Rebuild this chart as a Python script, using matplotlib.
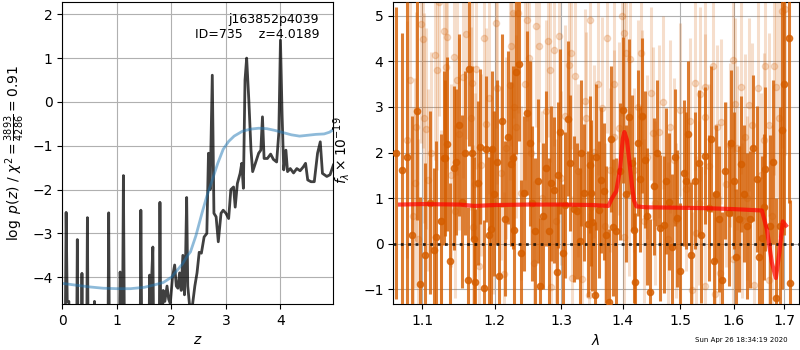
import numpy as np
import matplotlib
matplotlib.use('Agg')
import matplotlib.pyplot as plt
from matplotlib.ticker import NullLocator

# ---- p(z) panel ----
zgrid = [0.0, 0.05, 0.07, 0.09, 0.12, 0.14, 0.26, 0.275, 0.29, 0.345, 0.36, 0.375,
         0.445, 0.46, 0.475, 0.57, 0.59, 0.61, 0.835, 0.85, 0.865, 1.04, 1.06, 1.08,
         1.10, 1.12, 1.135, 1.15, 1.425, 1.44, 1.46, 1.585, 1.60, 1.62, 1.66, 1.68,
         1.775, 1.79, 1.81, 1.85, 1.88, 1.92, 1.95, 1.98, 2.02, 2.06, 2.09, 2.12,
         2.15, 2.18, 2.21, 2.24, 2.26, 2.28, 2.30, 2.33, 2.36, 2.39, 2.43, 2.47,
         2.51, 2.55, 2.60, 2.65, 2.68, 2.71, 2.75, 2.78, 2.82, 2.86, 2.91, 2.95,
         3.00, 3.05, 3.09, 3.14, 3.17, 3.21, 3.26, 3.29, 3.32, 3.35, 3.38, 3.42,
         3.46, 3.49, 3.54, 3.60, 3.64, 3.67, 3.70, 3.76, 3.82, 3.87, 3.93, 3.97,
         4.00, 4.03, 4.06, 4.10, 4.13, 4.18, 4.24, 4.30, 4.36, 4.42, 4.46, 4.50,
         4.56, 4.62, 4.68, 4.73, 4.77, 4.85, 4.91, 4.97]
log_pdf = [-6, -6, -2.52, -4.55, -4.55, -6, -6, -3.14, -6, -6, -3.91, -6,
           -6, -2.64, -6, -6, -4.55, -6, -6, -2.53, -6, -6, -3.88, -4.6,
           -6, -1.68, -4.6, -6, -6, -2.47, -6, -6, -3.95, -4.6, -3.31, -6,
           -6, -2.29, -6, -4.3, -4.55, -4.2, -4.5, -4.6, -4.0, -3.72, -4.2, -4.25,
           -3.9, -4.3, -3.5, -4.4, -3.6, -2.18, -4.2, -4.6, -4.7, -4.6, -4.2, -3.9,
           -3.43, -3.45, -3.08, -3.0, -1.17, -2.0, 0.61, -2.54, -2.62, -3.19, -2.54, -2.47,
           -2.54, -2.66, -2.0, -1.94, -2.4, -1.86, -1.63, -1.40, -1.97, 0.5, 1.0, 0.04,
           -1.1, -1.59, -1.40, -1.17, -1.1, -0.34, -1.29, -1.29, -1.19, -1.31, -1.37, -0.7,
           1.41, -0.3, -1.55, -1.1, -1.59, -1.52, -1.62, -1.52, -1.57, -1.48, -1.40, -1.78,
           -1.82, -1.82, -1.17, -0.91, -1.63, -1.70, -1.66, -1.44]

zprior = [0.0, 0.25, 0.5, 0.75, 1.0, 1.25, 1.5, 1.7, 1.85, 2.0, 2.1, 2.2, 2.3, 2.35,
          2.45, 2.56, 2.65, 2.75, 2.85, 2.95, 3.05, 3.15, 3.3, 3.45, 3.6, 3.75,
          3.9, 4.05, 4.2, 4.35, 4.5, 4.65, 4.8, 4.9, 4.97]
log_prior = [-4.14, -4.18, -4.22, -4.25, -4.26, -4.26, -4.23, -4.17, -4.12, -4.0, -3.85,
             -3.7, -3.5, -3.42, -3.05, -2.54, -2.15, -1.78, -1.4, -1.08, -0.9, -0.78,
             -0.67, -0.62, -0.60, -0.61, -0.65, -0.70, -0.75, -0.78, -0.76, -0.74,
             -0.73, -0.69, -0.63]

# ---- spectrum panel (dark = first grism, light = second) ----
wave_a = [1.0658, 1.0735, 1.0930, 1.0970, 1.1040, 1.1160, 1.1187, 1.1295, 1.1309, 1.1332,
          1.1377, 1.1423, 1.1460, 1.1538, 1.1575, 1.1617, 1.1640, 1.1682, 1.1724, 1.1762,
          1.1795, 1.1843, 1.1880, 1.1914, 1.1952, 1.1960, 1.2039, 1.2068, 1.2155, 1.2199,
          1.2233, 1.2273, 1.2317, 1.2357, 1.2386, 1.2436, 1.2476, 1.2551, 1.2602, 1.2647,
          1.2678, 1.2769, 1.2816, 1.2841, 1.2893, 1.2934, 1.2986, 1.3065, 1.3112, 1.3143,
          1.3196, 1.3249, 1.3292, 1.3367, 1.3420, 1.3463, 1.3475, 1.3490, 1.3545, 1.3599,
          1.3637, 1.3681, 1.3764, 1.3836, 1.3891, 1.3947, 1.4003, 1.4099, 1.4156, 1.4195,
          1.4212, 1.4287, 1.4327, 1.4384, 1.4471, 1.4529, 1.4646, 1.4705, 1.4746, 1.4805,
          1.4853, 1.4943, 1.5063, 1.5105, 1.5202, 1.5264, 1.5337, 1.5448, 1.5523, 1.5616,
          1.5711, 1.5824, 1.5901, 1.5997, 1.6093, 1.6132, 1.6255, 1.6320, 1.6452, 1.6498,
          1.6551, 1.6617, 1.6718, 1.6839, 1.6960, 1.6990, 1.7105, 1.7125,
          # fainter / partly hidden points
          1.0800, 1.0860, 1.1100, 1.1250, 1.1500, 1.1700, 1.1990, 1.2110, 1.2290, 1.2520,
          1.2720, 1.2950, 1.3030, 1.3320, 1.3560, 1.3720, 1.3800, 1.4050, 1.4250, 1.4420,
          1.4580, 1.4900, 1.4990, 1.5150, 1.5390, 1.5570, 1.5660, 1.5770, 1.5950, 1.6040,
          1.6190, 1.6380, 1.6600, 1.6780, 1.6920]
flux_a = [2.0, 1.62, 2.92, -0.88, -0.24, -0.13, 0.15, 1.88, 1.88, 2.19,
          -0.37, 1.66, 1.79, 0.92, 1.99, -0.79, 3.84, 2.0, -0.84, 1.33,
          2.13, -0.98, 2.08, 0.20, 0.33, 2.08, 1.79, -0.70, 0.55, 2.33,
          1.75, 1.89, 3.76, 3.95, -0.2, 1.11, 2.87, 0.89, 0.27, 1.38,
          -0.93, 1.66, 0.28, 1.33, 1.18, -0.61, 2.46, 0.86, 2.74, 1.77,
          0.76, 0.72, 0.07, 1.12, 0.43, 1.73, 1.12, 0.47, -1.12, 0.75,
          1.39, 1.15, -1.28, 0.36, 0.27, 1.59, 2.94, 2.79, 1.77, 0.31,
          -0.83, 1.42, 2.81, 1.84, -1.05, 1.26, 0.35, 0.42, 1.37, 0.92,
          -0.07, 0.56, 1.56, 1.38, -0.24, 1.38, 1.77, 1.93, 0.78, -0.37,
          0.55, 1.60, 0.68, 1.38, 0.54, 1.75, 0.38, 0.54, 1.42, -0.28,
          0.12, 1.64, 0.38, -1.19, 2.5, 3.5, 4.5, -0.85,
          1.9, 0.2, 0.9, 0.5, 2.6, 0.1, 1.1, 2.7, 0.3, 2.2,
          0.6, 1.5, -0.2, 2.0, 1.9, 0.2, 2.3, 1.1, 2.2, 0.6,
          2.0, 1.9, -0.6, 2.4, 0.2, 2.3, 1.1, -0.8, 2.2, -0.3,
          1.1, 2.1, 0.8, 1.8, 0.4]
err_a = [3.2, 3.0, 2.4, 1.9, 2.0, 1.8, 2.1, 1.9, 1.7, 1.9,
         1.7, 1.8, 1.6, 1.9, 1.8, 1.6, 1.7, 1.9, 1.6, 1.8,
         1.7, 1.5, 1.6, 1.7, 1.8, 1.7, 1.8, 1.6, 1.7, 1.9,
         1.8, 2.0, 1.8, 1.7, 1.6, 1.7, 1.8, 1.7, 1.6, 1.8,
         1.5, 1.7, 1.6, 1.7, 1.6, 1.5, 1.8, 1.6, 1.7, 1.5,
         1.6, 1.5, 1.6, 1.5, 1.6, 1.5, 1.6, 1.5, 1.6, 1.5,
         1.6, 1.5, 1.6, 1.5, 1.6, 1.5, 1.6, 1.7, 1.5, 1.6,
         1.5, 1.6, 1.7, 1.5, 1.6, 1.5, 1.6, 1.5, 1.6, 1.5,
         1.6, 1.5, 1.6, 1.5, 1.6, 1.5, 1.6, 1.5, 1.6, 1.5,
         1.6, 1.5, 1.6, 1.5, 1.6, 1.5, 1.6, 1.5, 1.6, 1.7,
         1.8, 1.8, 2.0, 2.2, 3.5, 3.3, 3.6, 1.8,
         3.4, 2.6, 2.0, 1.9, 2.0, 1.8, 1.8, 1.9, 1.7, 1.8,
         1.6, 1.6, 1.5, 1.6, 1.6, 1.5, 1.6, 1.5, 1.6, 1.5,
         1.6, 1.5, 1.5, 1.6, 1.5, 1.6, 1.5, 1.5, 1.6, 1.5,
         1.5, 1.6, 1.6, 1.8, 2.6]

wave_b = [1.0799, 1.0878, 1.0908, 1.0917, 1.0987, 1.1005, 1.1020, 1.1053, 1.1071, 1.1174,
          1.1195, 1.1255, 1.1286, 1.1315, 1.1330, 1.1432, 1.1440, 1.1469, 1.1547, 1.1664,
          1.1678, 1.1690, 1.1739, 1.1781, 1.1809, 1.1852, 1.1876, 1.2024, 1.2035, 1.2097,
          1.2140, 1.2219, 1.2240, 1.2263, 1.2312, 1.2342, 1.2391, 1.2440, 1.2480, 1.2501,
          1.2577, 1.2617, 1.2652, 1.2790, 1.2831, 1.2845, 1.2883, 1.2960, 1.3002, 1.3117,
          1.3150, 1.3170, 1.3223, 1.3329, 1.3375, 1.3399, 1.3437, 1.3453, 1.3529, 1.3654,
          1.3736, 1.3791, 1.3858, 1.3930, 1.3986, 1.4014, 1.4026, 1.4059, 1.4127, 1.4184,
          1.4310, 1.4335, 1.4413, 1.4517, 1.4617, 1.4823, 1.4895, 1.4925, 1.5003, 1.5215,
          1.5276, 1.5290, 1.5368, 1.5448, 1.5455, 1.5460, 1.5648, 1.5679, 1.5742, 1.5761,
          1.5932, 1.5977, 1.5984, 1.6016, 1.6132, 1.6158, 1.6209, 1.6301, 1.6386, 1.6465,
          1.6584, 1.6684, 1.6698, 1.6839, 1.6886, 1.6954, 1.7022,
          # fainter / partly hidden points
          1.0840, 1.0950, 1.1120, 1.1230, 1.1380, 1.1500, 1.1600, 1.1720, 1.1920, 1.1980,
          1.2160, 1.2290, 1.2540, 1.2700, 1.2760, 1.2920, 1.3060, 1.3270, 1.3480, 1.3590,
          1.3700, 1.3850, 1.4100, 1.4250, 1.4370, 1.4480, 1.4560, 1.4700, 1.4780, 1.5100,
          1.5180, 1.5350, 1.5530, 1.5600, 1.5850, 1.6070, 1.6250, 1.6350, 1.6530, 1.6620,
          1.6760, 1.6800]
flux_b = [2.28, 0.6, 1.33, 2.57, 4.82, 4.49, 2.75, 2.52, 1.40, 4.13,
          3.81, 0.49, 4.67, 3.87, 4.53, 4.09, 0.71, 3.60, 3.65, 2.75,
          3.52, 0.36, 3.83, -0.48, 1.73, 4.51, 2.63, 4.84, 3.41, 1.55,
          -0.66, 3.49, 4.34, 5.06, 2.57, 5.06, 1.11, 3.50, 4.90, 4.07,
          -0.43, 4.77, 4.33, 4.45, 3.80, -0.94, 4.25, 4.55, 1.44, 3.91,
          4.18, -0.76, 3.68, -0.78, 3.14, 2.75, -1.12, 4.90, 2.02, 2.97,
          4.52, 1.62, 2.34, 2.53, 5.0, 0.14, 4.62, 4.18, 4.05, 1.62,
          4.18, 2.79, 1.91, 2.42, 2.46, 2.57, 1.84, 0.52, 2.94, -1.01,
          3.52, 0.23, 3.28, 3.43, 2.79, -0.92, -1.11, 2.55, -0.65, 2.68,
          2.17, -0.34, 4.02, 3.06, 3.43, 0.52, 2.35, 3.05, -0.9, 3.41,
          2.28, -0.79, 2.61, 3.43, 2.75, 5.1, 5.15,
          3.6, 0.1, 2.0, 5.3, 1.5, 2.4, 4.6, 1.3, 3.2, 0.9,
          2.1, 3.0, 2.0, 1.0, 2.9, 0.5, 2.8, 1.6, 0.8, 3.5,
          0.4, 3.5, 1.1, 3.0, 0.5, 3.3, 0.9, 3.1, 0.1, 1.2,
          2.7, 0.9, 1.7, 3.9, 1.3, 2.1, 1.0, 2.6, 1.5, 3.9,
          0.6, 3.9]
err_b = [2.6, 2.4, 2.3, 2.5, 2.6, 2.4, 2.3, 2.2, 2.0, 2.3,
         2.2, 2.0, 2.4, 2.2, 2.3, 2.2, 1.9, 2.1, 2.2, 2.0,
         2.1, 1.8, 2.2, 1.8, 2.0, 2.3, 2.1, 2.3, 2.1, 1.9,
         1.8, 2.1, 2.2, 2.3, 2.0, 2.2, 1.9, 2.1, 2.2, 2.1,
         1.8, 2.2, 2.1, 2.1, 2.0, 1.8, 2.1, 2.2, 1.9, 2.0,
         2.1, 1.8, 2.0, 1.8, 2.0, 1.9, 1.8, 2.2, 1.9, 2.0,
         2.1, 1.8, 1.9, 1.9, 2.2, 1.8, 2.1, 2.0, 2.0, 1.8,
         2.0, 1.9, 1.8, 1.9, 1.9, 1.9, 1.8, 1.7, 1.9, 1.7,
         1.9, 1.7, 1.9, 1.9, 1.8, 1.7, 1.7, 1.8, 1.7, 1.8,
         1.8, 1.7, 2.0, 1.9, 1.9, 1.7, 1.8, 1.9, 1.7, 1.9,
         1.9, 1.8, 2.0, 2.4, 2.6, 3.0, 3.2,
         2.6, 2.2, 2.2, 2.5, 2.0, 2.1, 2.3, 2.0, 2.1, 2.0,
         2.0, 2.1, 2.0, 1.9, 2.0, 1.8, 2.0, 1.9, 1.8, 2.0,
         1.8, 2.0, 1.8, 1.9, 1.8, 1.9, 1.8, 1.9, 1.7, 1.8,
         1.8, 1.8, 1.8, 1.9, 1.8, 1.8, 1.8, 1.8, 1.8, 2.0,
         2.0, 2.4]

wave_model = [1.071, 1.10, 1.15, 1.172, 1.20, 1.25, 1.30, 1.35, 1.376, 1.382, 1.389,
              1.395, 1.400, 1.4026, 1.407, 1.412, 1.4156, 1.419, 1.423, 1.44, 1.50,
              1.55, 1.60, 1.655, 1.665, 1.675, 1.683, 1.690, 1.697, 1.7035]
flux_model = [0.86, 0.87, 0.86, 0.83, 0.85, 0.86, 0.86, 0.85, 0.83, 1.0, 1.15,
              1.6, 2.3, 2.45, 2.28, 1.7, 1.26, 0.95, 0.82, 0.80, 0.79,
              0.78, 0.76, 0.73, 0.31, -0.42, -0.75, -0.2, 0.49, 0.40]

xticks_wave = [1.1, 1.2, 1.3, 1.4, 1.5, 1.6, 1.7]
grism_color = '#d55e00'

fig = plt.figure(figsize=(8, 3.5), dpi=100)

ax = fig.add_axes([0.0779, 0.1314, 0.3388, 0.8629])
ax.plot(zgrid, log_pdf, color='k', alpha=0.75, lw=2)
ax.plot(zprior, log_prior, color='#1f77b4', alpha=0.5, lw=2)
ax.set_xlim(0, 4.97)
ax.set_ylim(-4.61, 2.28)
ax.set_xlabel('$z$')
ax.set_ylabel(r'$\log\ p(z)$ / $\chi^2=\frac{3893}{4286}=0.91$')
ax.grid()
ax.text(0.948, 0.965, 'j163852p4039\nID=735    z=4.0189', ha='right', va='top',
        transform=ax.transAxes, fontsize=9)

ax = fig.add_axes([0.4916, 0.1314, 0.5071, 0.8629])
ax.errorbar(wave_b, flux_b, yerr=err_b, fmt='o', color=grism_color, alpha=0.2,
            ms=4.5, elinewidth=2.2, capsize=0, zorder=2)
ax.errorbar(wave_a, flux_a, yerr=err_a, fmt='o', color=grism_color, alpha=0.8,
            ms=4.5, elinewidth=2.2, capsize=0, zorder=3)
ax.plot(wave_model, flux_model, color='r', alpha=0.7, lw=3, zorder=5)
ax.axhline(0, color='k', linestyle=':', lw=2, alpha=0.8, zorder=4)
ax.set_xscale('log')
ax.set_xticks(xticks_wave)
ax.set_xticklabels([str(t) for t in xticks_wave])
ax.xaxis.set_minor_locator(NullLocator())
ax.set_xlim(1.0623, 1.7304)
ax.set_ylim(-1.32, 5.3)
ax.set_xlabel(r'$\lambda$')
ax.set_ylabel(r'$f_\lambda\times10^{-19}$')
ax.yaxis.set_label_coords(-0.102, 0.51)
ax.grid()

fig.text(0.985, 0.02, 'Sun Apr 26 18:34:19 2020', ha='right', va='bottom', fontsize=5)

fig.savefig('out.png', dpi=100)
